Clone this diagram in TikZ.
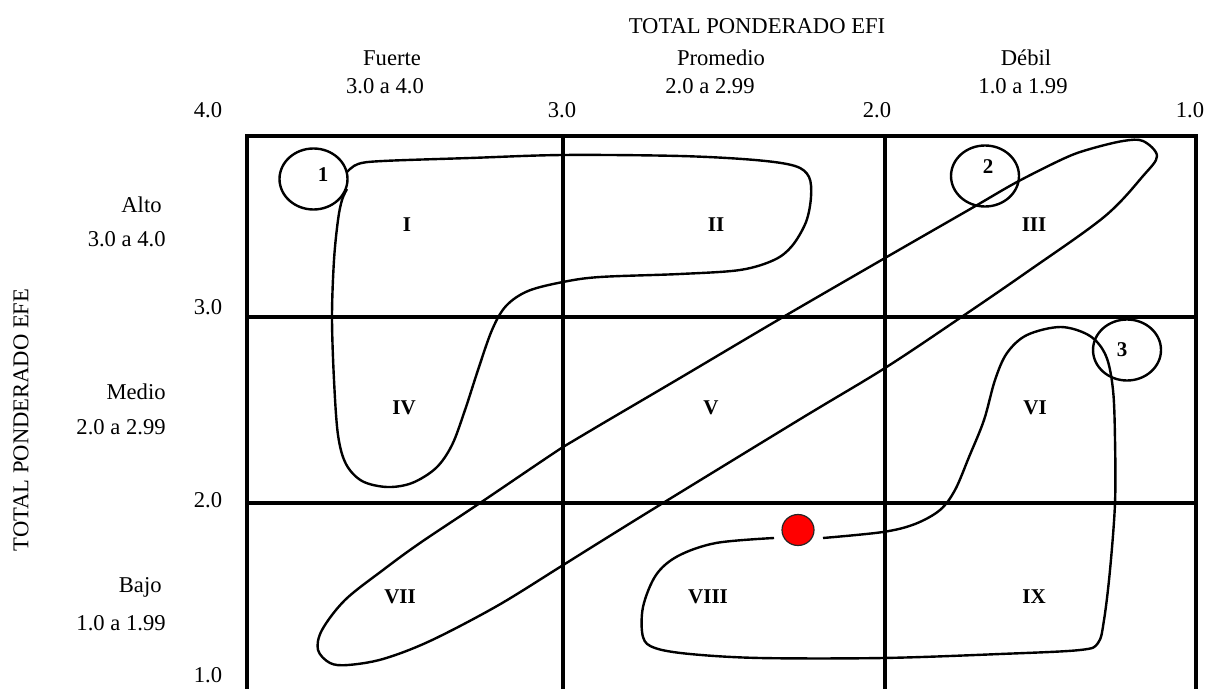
\documentclass[tikz,border=0pt]{standalone}
\usepackage{fontspec}
\setmainfont{Liberation Serif}
\usetikzlibrary{shapes.geometric}
\begin{document}
\begin{tikzpicture}[x=0.5pt,y=-0.5pt,
  grid/.style={line width=1.8pt},
  loop/.style={line width=1.2pt, line join=round},
  lbl/.style={inner sep=0pt, font=\fontsize{11.3}{13}\selectfont},
  rom/.style={inner sep=0pt, font=\fontsize{10.5}{12}\selectfont\bfseries},
  numring/.style={draw, ellipse, line width=1.2pt, minimum width=34pt, minimum height=30.5pt, inner sep=0pt},
  num/.style={inner sep=0pt, font=\fontsize{10.5}{12}\selectfont\bfseries},
  reddot/.style={draw=black!85, fill=red, ellipse, line width=0.6pt, minimum width=16pt, minimum height=15.5pt, inner sep=0pt}]
\useasboundingbox (0,0) rectangle (1208,689);
% grid
\draw[grid] (247,136) rectangle (1196,695);
\draw[grid] (563,136) -- (563,695);
\draw[grid] (885,136) -- (885,695);
\draw[grid] (247,317) -- (1196,317);
\draw[grid] (247,503) -- (1196,503);
% top labels
\node[lbl] (efi) at (757,26) {TOTAL PONDERADO EFI};
\node[lbl] (fu) at (392,58) {Fuerte};
\node[lbl] (fur) at (385,86) {3.0 a 4.0};
\node[lbl] (pr) at (721,58) {Promedio};
\node[lbl] (prr) at (710,86) {2.0 a 2.99};
\node[lbl] (de) at (1026,58) {Débil};
\node[lbl] (der) at (1023,86) {1.0 a 1.99};
\node[lbl] (t4) at (208,110) {4.0};
\node[lbl] (t3) at (562,110) {3.0};
\node[lbl] (t2) at (877,110) {2.0};
\node[lbl] (t1) at (1190,110) {1.0};
% left labels
\node[lbl, rotate=90] (efe) at (21,420) {TOTAL PONDERADO EFE};
\node[lbl, anchor=east] (al) at (162,205) {Alto};
\node[lbl, anchor=east] (alr) at (166,239) {3.0 a 4.0};
\node[lbl, anchor=east] (me) at (166,392) {Medio};
\node[lbl, anchor=east] (mer) at (166,427) {2.0 a 2.99};
\node[lbl, anchor=east] (ba) at (162,587) {Bajo};
\node[lbl, anchor=east] (bar) at (166,623) {1.0 a 1.99};
\node[lbl] (y3) at (208,307) {3.0};
\node[lbl] (y2) at (208,500) {2.0};
\node[lbl] (y1) at (208,675) {1.0};
% roman numerals
\node[rom] (r1) at (407,225) {I};
\node[rom] (r2) at (716,225) {II};
\node[rom] (r3) at (1034,225) {III};
\node[rom] (r4) at (404,408) {IV};
\node[rom] (r5) at (711,408) {V};
\node[rom] (r6) at (1035,408) {VI};
\node[rom] (r7) at (400,597) {VII};
\node[rom] (r8) at (708,597) {VIII};
\node[rom] (r9) at (1034,597) {IX};
% curve A (I, II, IV)
\draw[loop] plot[smooth, tension=0.55] coordinates {
 (347,172) (358,164) (383,161) (470,158) (563,155) (680,156) (755,160) (795,166)
 (809,177) (811,197) (806,222) (792,246) (774,260) (740,270) (680,274) (600,277)
 (563,282) (528,291) (506,306) (492,330) (478,370) (465,410) (452,445) (436,468)
 (412,483) (387,487) (362,481) (346,464) (338,435) (334,380) (332,317) (334,260)
 (338,220) (342,200) (347,189)};
% curve B (VII, V, III)
\draw[loop] plot[smooth cycle, tension=0.55] coordinates {
 (1143,141) (1123,141) (1090,149) (1065,158) (1017,182) (972,208) (885,258)
 (778,320) (680,378) (600,425) (563,447) (480,503) (420,543) (383,570) (345,600)
 (322,630) (318,650) (330,663) (348,665) (383,659) (430,641) (497,606) (560,567)
 (600,542) (663,503) (802,418) (885,368) (960,318) (1027,272) (1104,217)
 (1143,176) (1157,156)};
% curve C (VIII, IX, VI)
\draw[loop] plot[smooth, tension=0.55] coordinates {
 (823,538) (883,532) (915,524) (940,510) (955,490) (969,457) (984,420) (995,380)
 (1007,353) (1027,335) (1061,327) (1090,336) (1106,356) (1113,390) (1115,440)
 (1115,503) (1110,570) (1104,620) (1098,643) (1080,650) (1000,654) (883,658)
 (760,658) (690,654) (655,648) (643,637) (643,607) (656,575) (678,556) (716,543)
 (774,538)};
% numbered rings
\node[numring, fill=white] (c1) at (313.5,179) {};
\node[num] (n1) at (323,175) {1};
\node[numring] (c2) at (985,176) {};
\node[num] (n2) at (988,167) {2};
\node[numring] (c3) at (1127,350) {};
\node[num] (n3) at (1122,350) {3};
% red dot
\node[reddot] (dot) at (798,530) {};
\end{tikzpicture}
\end{document}
